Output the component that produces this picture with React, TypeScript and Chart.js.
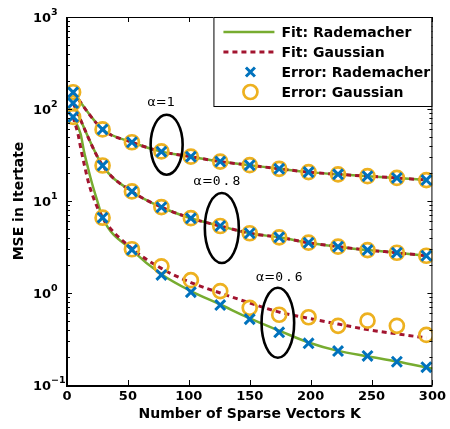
import React, { useEffect, useRef } from 'react';
import { Chart, registerables } from 'chart.js';

Chart.register(...registerables);

// ---------- data ----------
const kValues = [5, 29.2, 53.3, 77.5, 101.7, 125.8, 150, 174.2, 198.3, 222.5, 246.7, 270.8, 295];

const errRadA1 = [152, 60, 43.5, 34.4, 30.3, 26.8, 24.5, 22.4, 20.6, 19.5, 18.6, 17.8, 16.9];
const errGauA1 = [152, 60, 43.5, 34.6, 30.3, 26.8, 24.5, 22.4, 20.6, 19.5, 18.6, 17.8, 16.9];
const errRadA08 = [116, 24.3, 12.7, 8.55, 6.49, 5.35, 4.46, 4.03, 3.52, 3.19, 2.93, 2.74, 2.54];
const errGauA08 = [116, 24.3, 12.7, 8.6, 6.5, 5.35, 4.46, 4.03, 3.52, 3.19, 2.93, 2.74, 2.54];
const errRadA06 = [82, 6.58, 2.95, 1.57, 1.02, 0.74, 0.52, 0.374, 0.284, 0.234, 0.207, 0.179, 0.156];
const errGauA06 = [82, 6.58, 2.99, 1.95, 1.38, 1.05, 0.69, 0.58, 0.545, 0.44, 0.5, 0.44, 0.35];

const fitK = [5, 29.2, 53.3, 77.5, 101.7, 125.8, 150, 174.2, 198.3, 222.5, 246.7, 270.8, 295];
const fitRadA1 = [152, 60, 43.5, 34.4, 30.3, 26.8, 24.5, 22.4, 20.6, 19.5, 18.6, 17.8, 16.9];
const fitGauA1 = [152, 60, 43.5, 34.5, 30.3, 26.8, 24.5, 22.4, 20.6, 19.5, 18.6, 17.8, 16.9];
const fitRadA08 = [116, 24.3, 12.7, 8.55, 6.49, 5.35, 4.46, 4.03, 3.52, 3.19, 2.93, 2.74, 2.54];
const fitGauA08 = [116, 24.3, 12.7, 8.58, 6.5, 5.35, 4.46, 4.03, 3.52, 3.19, 2.93, 2.74, 2.54];

const fitRadK06 = [5, 11.2, 13.9, 17.2, 20.7, 24.8, 29.2, 53.3, 77.5, 101.7, 125.8, 150, 174.2, 198.3, 222.5, 246.7, 270.8, 300];
const fitRadA06 = [82, 53.5, 35, 23, 15.3, 10.1, 6.58, 2.93, 1.6, 1.05, 0.75, 0.53, 0.39, 0.29, 0.235, 0.205, 0.18, 0.151];
const fitGauK06 = [5, 9.0, 11.7, 14.7, 18.0, 22.6, 29.2, 53.3, 77.5, 101.7, 125.8, 150, 174.2, 198.3, 222.5, 246.7, 270.8, 295];
const fitGauA06 = [82, 53.5, 35.2, 23.2, 15.3, 10.1, 6.58, 3.05, 1.85, 1.3, 1.0, 0.78, 0.62, 0.53, 0.46, 0.4, 0.36, 0.325];

const xTickValues = [0, 50, 100, 150, 200, 250, 300];
const yTickValues = [0.1, 1, 10, 100, 1000];
const yTickExponents = ['\u22121', '0', '1', '2', '3'];

const legendLabels = ['Fit: Rademacher', 'Fit: Gaussian', 'Error: Rademacher', 'Error: Gaussian'];

const noteLabels = ['\u03b1=1', '\u03b1=0.8', '\u03b1=0.6'];
const noteK = [77.3, 123.8, 175];
const noteMSE = [116, 16.1, 1.47];
const ellipseK = [81.8, 127.1, 173.1];
const ellipseMSE = [40.9, 5.09, 0.475];

// ---------- styles ----------
const GREEN = '#77AC30';
const RED = '#A2142F';
const BLUE = '#0072BD';
const ORANGE = '#EDB120';
const FONT = 'DejaVu Sans';

const pts = (xs: number[], ys: number[]) => xs.map((x, i) => ({ x, y: ys[i] }));

const fitLine = (label: string, xs: number[], ys: number[], gauss: boolean) => ({
  label,
  data: pts(xs, ys),
  showLine: true,
  borderColor: gauss ? RED : GREEN,
  borderWidth: gauss ? 3 : 2.5,
  borderDash: gauss ? [5, 4] : [],
  pointRadius: 0,
  pointHoverRadius: 0,
  cubicInterpolationMode: 'monotone',
  fill: false,
  order: gauss ? 3 : 4,
});

const crossSet = (label: string, ys: number[]) => ({
  label,
  data: pts(kValues, ys),
  showLine: false,
  pointStyle: 'crossRot',
  pointRadius: 7,
  pointBorderWidth: 3,
  borderColor: BLUE,
  backgroundColor: BLUE,
  order: 1,
});

const circleSet = (label: string, ys: number[]) => ({
  label,
  data: pts(kValues, ys),
  showLine: false,
  pointStyle: 'circle',
  pointRadius: 7,
  pointBorderWidth: 2.7,
  borderColor: ORANGE,
  backgroundColor: 'rgba(0,0,0,0)',
  order: 2,
});

const overlayPlugin = {
  id: 'overlay',
  afterDraw(chart: any) {
    const ctx = chart.ctx as CanvasRenderingContext2D;
    const { left, right, top, bottom } = chart.chartArea;
    const xs = chart.scales.x;
    const ys = chart.scales.y;
    ctx.save();

    // annotations: ellipses
    ctx.strokeStyle = '#000';
    ctx.lineWidth = 2.6;
    const radii = [
      [16, 30],
      [17, 35],
      [16.3, 35],
    ];
    ellipseK.forEach((k, i) => {
      ctx.beginPath();
      ctx.ellipse(xs.getPixelForValue(k), ys.getPixelForValue(ellipseMSE[i]), radii[i][0], radii[i][1], 0, 0, Math.PI * 2);
      ctx.stroke();
    });

    // annotation labels
    ctx.fillStyle = '#000';
    ctx.textBaseline = 'middle';
    noteLabels.forEach((lab, i) => {
      const [a, b] = lab.split('=');
      const head = a + '=';
      ctx.font = `13px "${FONT}"`;
      (ctx as any).letterSpacing = '0px';
      const w1 = ctx.measureText(head).width;
      ctx.font = b.length > 1 ? `13px "DejaVu Sans Mono"` : `13px "${FONT}"`;
      (ctx as any).letterSpacing = b.length > 1 ? '2px' : '0px';
      const w2 = ctx.measureText(b).width;
      const cx = xs.getPixelForValue(noteK[i]);
      const cy = ys.getPixelForValue(noteMSE[i]);
      const x0 = cx - (w1 + w2) / 2;
      ctx.font = `13px "${FONT}"`;
      (ctx as any).letterSpacing = '0px';
      ctx.textAlign = 'left';
      ctx.fillText(head, x0, cy);
      ctx.font = b.length > 1 ? `13px "DejaVu Sans Mono"` : `13px "${FONT}"`;
      (ctx as any).letterSpacing = b.length > 1 ? '2px' : '0px';
      ctx.fillText(b, x0 + w1, cy);
    });
    (ctx as any).letterSpacing = '0px';

    // ticks (inside)
    ctx.strokeStyle = '#000';
    ctx.lineWidth = 1;
    ctx.beginPath();
    xTickValues.forEach((v) => {
      const px = Math.round(xs.getPixelForValue(v)) + 0.5;
      ctx.moveTo(px, bottom);
      ctx.lineTo(px, bottom - 5);
      ctx.moveTo(px, top);
      ctx.lineTo(px, top + 5);
    });
    for (let d = 0; d < yTickValues.length; d++) {
      const base = yTickValues[d];
      const py = Math.round(ys.getPixelForValue(base)) + 0.5;
      ctx.moveTo(left, py);
      ctx.lineTo(left + 5, py);
      ctx.moveTo(right, py);
      ctx.lineTo(right - 5, py);
      if (d < yTickValues.length - 1) {
        for (let m = 2; m <= 9; m++) {
          const my = Math.round(ys.getPixelForValue(base * m)) + 0.5;
          ctx.moveTo(left, my);
          ctx.lineTo(left + 3, my);
          ctx.moveTo(right, my);
          ctx.lineTo(right - 3, my);
        }
      }
    }
    ctx.stroke();

    // box
    ctx.lineWidth = 1;
    ctx.beginPath();
    ctx.moveTo(left, top + 0.5);
    ctx.lineTo(right, top + 0.5);
    ctx.moveTo(right - 0.5, top);
    ctx.lineTo(right - 0.5, bottom);
    ctx.stroke();
    ctx.lineWidth = 2;
    ctx.beginPath();
    ctx.moveTo(left, top);
    ctx.lineTo(left, bottom + 1);
    ctx.lineTo(right, bottom + 1);
    ctx.stroke();

    // y tick labels (10 with exponent)
    ctx.fillStyle = '#000';
    yTickValues.forEach((v, i) => {
      const py = ys.getPixelForValue(v);
      ctx.font = `bold 13px "${FONT}"`;
      ctx.textAlign = 'right';
      ctx.textBaseline = 'middle';
      ctx.fillText('10', left - 16, py + 2);
      ctx.font = `bold 9.5px "${FONT}"`;
      ctx.textAlign = 'left';
      ctx.fillText(yTickExponents[i], left - 16, py - 4);
    });

    // legend
    const lw = 218;
    const lh = 89;
    const lx = right - lw - 1;
    const ly = top;
    ctx.fillStyle = '#fff';
    ctx.fillRect(lx, ly, lw, lh);
    ctx.strokeStyle = '#000';
    ctx.lineWidth = 1;
    ctx.strokeRect(lx + 0.5, ly + 0.5, lw, lh);
    legendLabels.forEach((lab, i) => {
      const ry = ly + 15 + i * 20;
      const mx = lx + 37;
      if (i === 0) {
        ctx.strokeStyle = GREEN;
        ctx.lineWidth = 2.5;
        ctx.setLineDash([]);
        ctx.beginPath();
        ctx.moveTo(lx + 10, ry);
        ctx.lineTo(lx + 61, ry);
        ctx.stroke();
      } else if (i === 1) {
        ctx.strokeStyle = RED;
        ctx.lineWidth = 3;
        ctx.setLineDash([5, 4]);
        ctx.beginPath();
        ctx.moveTo(lx + 10, ry);
        ctx.lineTo(lx + 61, ry);
        ctx.stroke();
        ctx.setLineDash([]);
      } else if (i === 2) {
        ctx.strokeStyle = BLUE;
        ctx.lineWidth = 3;
        ctx.beginPath();
        ctx.moveTo(mx - 4.5, ry - 4.5);
        ctx.lineTo(mx + 4.5, ry + 4.5);
        ctx.moveTo(mx + 4.5, ry - 4.5);
        ctx.lineTo(mx - 4.5, ry + 4.5);
        ctx.stroke();
      } else {
        ctx.strokeStyle = ORANGE;
        ctx.lineWidth = 2.7;
        ctx.beginPath();
        ctx.arc(mx, ry, 7, 0, Math.PI * 2);
        ctx.stroke();
      }
      ctx.fillStyle = '#000';
      ctx.font = `bold 14px "${FONT}"`;
      ctx.textAlign = 'left';
      ctx.textBaseline = 'middle';
      ctx.fillText(lab, lx + 68, ry + 1);
    });

    ctx.restore();
  },
};

export default function App() {
  const ref = useRef<HTMLCanvasElement | null>(null);

  useEffect(() => {
    document.body.style.margin = '0';
    const canvas = ref.current;
    if (!canvas) return;
    Chart.defaults.font.family = FONT;
    Chart.defaults.color = '#000';

    const chart = new Chart(canvas, {
      type: 'scatter',
      data: {
        datasets: [
          fitLine('Fit: Rademacher', fitK, fitRadA1, false),
          fitLine('Fit: Rademacher', fitK, fitRadA08, false),
          fitLine('Fit: Rademacher', fitRadK06, fitRadA06, false),
          fitLine('Fit: Gaussian', fitK, fitGauA1, true),
          fitLine('Fit: Gaussian', fitK, fitGauA08, true),
          fitLine('Fit: Gaussian', fitGauK06, fitGauA06, true),
          circleSet('Error: Gaussian', errGauA1),
          circleSet('Error: Gaussian', errGauA08),
          circleSet('Error: Gaussian', errGauA06),
          crossSet('Error: Rademacher', errRadA1),
          crossSet('Error: Rademacher', errRadA08),
          crossSet('Error: Rademacher', errRadA06),
        ] as any,
      },
      options: {
        animation: false,
        responsive: false,
        devicePixelRatio: 1,
        layout: { padding: { top: 17, right: 16, left: 0, bottom: 0 } },
        plugins: {
          legend: { display: false },
          tooltip: { enabled: false },
        },
        scales: {
          x: {
            type: 'linear',
            min: 0,
            max: 300,
            grid: { display: false, drawTicks: false },
            border: { display: false },
            afterBuildTicks: (scale: any) => {
              scale.ticks = xTickValues.map((v) => ({ value: v }));
            },
            afterFit: (scale: any) => {
              scale.height = 44;
            },
            ticks: {
              padding: 4,
              color: '#000',
              font: { family: FONT, size: 13, weight: 'bold' },
              maxRotation: 0,
              autoSkip: false,
            },
            title: {
              display: true,
              text: 'Number of Sparse Vectors K',
              color: '#000',
              font: { family: FONT, size: 14, weight: 'bold' },
              padding: { top: 0, bottom: 6.5 },
            },
          },
          y: {
            type: 'logarithmic',
            min: 0.1,
            max: 1000,
            grid: { display: false, drawTicks: false },
            border: { display: false },
            afterBuildTicks: (scale: any) => {
              scale.ticks = yTickValues.map((v) => ({ value: v }));
            },
            afterFit: (scale: any) => {
              scale.width = 67;
            },
            ticks: { display: false },
            title: {
              display: true,
              text: 'MSE in Itertate',
              color: '#000',
              font: { family: FONT, size: 14, weight: 'bold' },
              padding: { top: 10.5, bottom: 0 },
            },
          },
        },
      } as any,
      plugins: [overlayPlugin],
    });

    return () => chart.destroy();
  }, []);

  return (
    <div style={{ width: 450, height: 429 }}>
      <canvas ref={ref} width={450} height={429} style={{ display: 'block' }} />
    </div>
  );
}
